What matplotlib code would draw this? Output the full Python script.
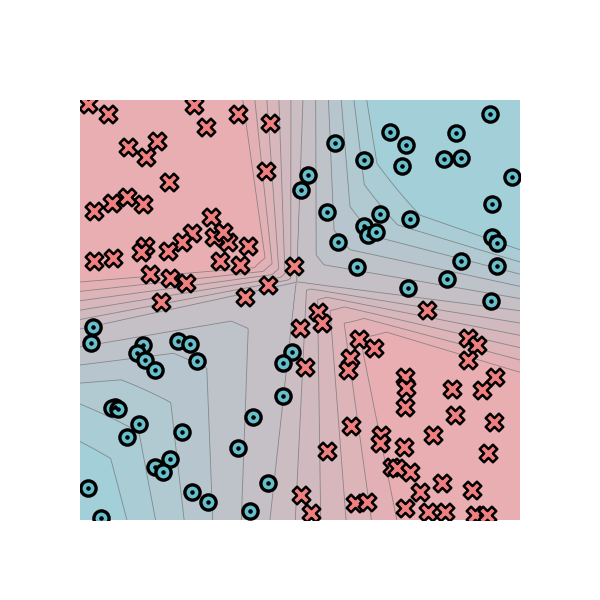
import numpy as np
import matplotlib

matplotlib.use("Agg")
import matplotlib.pyplot as plt
from matplotlib.colors import LinearSegmentedColormap

# class A: salmon crosses
cross_x = [-2.89, -2.62, -1.45, -1.28, -0.85, -0.41, -2.35, -1.95, -2.10, -1.79,
           -0.46, -2.81, -2.56, -2.36, -2.14, -1.21, -1.47, -1.61, -2.11, -2.17,
           -1.80, -1.17, -0.98, -1.05, -0.71, -1.09, -0.82, -2.81, -2.55, -2.05,
           -1.77, -1.55, -1.90, -0.75, -0.44, -0.08, 0.25, 0.30, 0.00, 1.73,
           0.80, 1.01, 0.68, 0.65, 0.07, 2.29, 2.41, 2.29, 1.43, 1.45,
           1.43, 2.07, 2.66, 2.48, 2.11, 2.65, 0.70, 1.10, 1.09, 1.42,
           1.81, 0.37, 2.56, 1.25, 1.32, 1.50, 1.94, 1.64, 2.35, 0.01,
           0.75, 0.91, 0.15, 1.43, 1.75, 1.98, 2.39, 2.55]
cross_y = [2.94, 2.80, 2.93, 2.61, 2.80, 2.67, 2.33, 2.41, 2.19, 1.83,
           1.99, 1.41, 1.53, 1.61, 1.51, 1.33, 1.10, 0.97, 0.91, 0.83,
           0.84, 1.04, 0.97, 1.11, 0.91, 0.70, 0.64, 0.70, 0.74, 0.51,
           0.46, 0.39, 0.11, 0.19, 0.36, 0.63, -0.03, -0.19, -0.26, 0.00,
           -0.41, -0.54, -0.69, -0.86, -0.81, -0.40, -0.50, -0.71, -0.96, -1.11,
           -1.39, -1.13, -0.96, -1.14, -1.50, -1.60, -1.66, -1.79, -1.90, -1.96,
           -1.79, -2.01, -2.04, -2.24, -2.26, -2.31, -2.47, -2.60, -2.57, -2.64,
           -2.76, -2.74, -2.90, -2.83, -2.89, -2.89, -2.93, -2.93]

# class B: blue circles
circle_x = [2.59, 1.23, 2.13, 0.48, 1.45, 0.87, 1.96, 2.20, 1.39, 2.89,
            0.11, 0.01, 2.62, 0.37, 1.09, 0.87, 0.93, 1.04, 1.50, 0.52,
            2.62, 2.69, 2.20, 0.78, 2.69, 2.00, 1.47, 2.60, -2.82, -2.85,
            -2.14, -2.22, -2.11, -1.98, -1.66, -1.50, -1.40, -0.11, -0.23, -0.23,
            -2.52, -2.56, -2.48, -2.20, -2.36, -1.61, -0.64, -0.85, -1.77, -1.98,
            -1.87, -2.89, -1.47, -1.25, -0.44, -0.68, -2.71]
circle_y = [2.80, 2.54, 2.53, 2.39, 2.36, 2.14, 2.16, 2.17, 2.06, 1.90,
            1.93, 1.71, 1.51, 1.40, 1.37, 1.20, 1.07, 1.11, 1.30, 0.97,
            1.04, 0.96, 0.70, 0.61, 0.63, 0.44, 0.31, 0.13, -0.24, -0.47,
            -0.50, -0.61, -0.71, -0.86, -0.44, -0.49, -0.73, -0.60, -0.76, -1.23,
            -1.39, -1.40, -1.41, -1.63, -1.81, -1.74, -1.53, -1.97, -2.13, -2.24,
            -2.31, -2.54, -2.60, -2.74, -2.47, -2.87, -2.97]

# decision surface (XOR-like, piecewise linear): saddle, zero rays, 5/6-level lines
center = (-0.05, 0.40)
ray_up, ray_right = (0.04, 3.0), (3.0, -0.01)
ray_down, ray_left = (-0.41, -3.0), (-3.0, -0.27)
sat_u = {"TL": [(-0.78, 3.0), (-0.52, 1.07)], "TR": [(0.91, 3.0), (1.09, 1.83)],
         "BR": [(0.78, -0.19), (1.32, -3.0)], "BL": [(-2.66, -1.81), (-2.36, -3.0)]}
sat_v = {"TL": [(-3.0, 0.40), (-0.68, 0.60)], "TR": [(1.43, 1.43), (3.0, 0.86)],
         "BR": [(0.78, -0.19), (3.0, -0.89)], "BL": [(-3.0, -1.56), (-2.18, -1.57)]}
LEVEL = 5 / 6
BEVEL = 2.4

pink = "#ECADB0"
mid = "#C8BEC4"
blue = "#A0D0DB"


def x_on(p, q, Y):
    return p[0] + (q[0] - p[0]) * (Y - p[1]) / (q[1] - p[1])


def y_on(p, q, X):
    return p[1] + (q[1] - p[1]) * (X - p[0]) / (q[0] - p[0])


def surface(X, Y):
    ang = lambda p: np.degrees(np.arctan2(p[1] - center[1], p[0] - center[0]))
    a = np.degrees(np.arctan2(Y - center[1], X - center[0]))
    a_up, a_right, a_down, a_left = ang(ray_up), ang(ray_right), ang(ray_down), ang(ray_left)
    quads = {
        "TR": ((a >= a_right) & (a < a_up), ray_up, ray_right, 1),
        "TL": ((a >= a_up) | (a < a_left), ray_up, ray_left, -1),
        "BL": ((a >= a_left) & (a < a_down), ray_down, ray_left, 1),
        "BR": ((a >= a_down) & (a < a_right), ray_down, ray_right, -1),
    }
    f = np.zeros_like(X)
    for key, (mask, ru, rv, sign) in quads.items():
        x0 = x_on(center, ru, Y)
        xs = x_on(*sat_u[key], Y)
        y0 = y_on(center, rv, X)
        ys = y_on(*sat_v[key], X)
        u = np.abs(LEVEL * (X - x0) / (xs - x0))
        v = np.abs(LEVEL * (Y - y0) / (ys - y0))
        val = np.minimum(np.minimum(u, v), (u + v) / BEVEL)
        f[mask] = sign * val[mask]
    return np.clip(f, -1, 1)


xx, yy = np.meshgrid(np.linspace(-3, 3, 500), np.linspace(-3, 3, 500))
zz = surface(xx, yy)

cmap = LinearSegmentedColormap.from_list("xor", [pink, mid, blue])
levels = np.linspace(-1, 1, 13)

fig = plt.figure(figsize=(6, 6), dpi=100)
ax = fig.add_axes([80 / 600, 80 / 600, 440 / 600, 420 / 600])
ax.contourf(xx, yy, zz, levels=levels, cmap=cmap, vmin=-1, vmax=1)
ax.contour(xx, yy, zz, levels=levels[1:-1], colors="0.45", linewidths=0.6,
           linestyles="solid", alpha=0.75)

ax.scatter(circle_x, circle_y, s=120, marker="o", facecolor="#66BFCB",
           edgecolor="black", linewidth=2.4, zorder=3)
ax.scatter(circle_x, circle_y, s=5, marker="o", color="black", zorder=4)
ax.scatter(cross_x, cross_y, s=160, marker="X", facecolor="#F08080",
           edgecolor="black", linewidth=1.8, zorder=5)

ax.set_xlim(-3, 3)
ax.set_ylim(-3, 3)
ax.axis("off")

fig.savefig("out.png", dpi=100)
